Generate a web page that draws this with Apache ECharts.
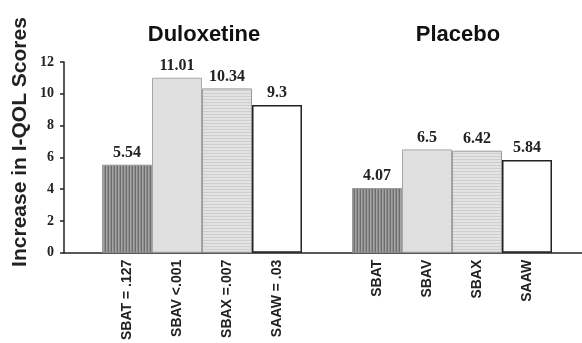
<!DOCTYPE html>
<html><head><meta charset="utf-8">
<script src="https://cdn.jsdelivr.net/npm/echarts@6/dist/echarts.min.js"></script>
<style>html,body{margin:0;padding:0;background:#fff}#c{width:582px;height:343px}</style>
</head><body><div id="c"></div>
<script>
const groupNames = ['Duloxetine', 'Placebo'];
const yAxisTitle = 'Increase in I-QOL Scores';
const duloxetineLabels = ['SBAT = .127', 'SBAV <.001', 'SBAX =.007', 'SAAW = .03'];
const placeboLabels = ['SBAT', 'SBAV', 'SBAX', 'SAAW'];
const duloxetineValues = [5.54, 11.01, 10.34, 9.3];
const placeboValues = [4.07, 6.5, 6.42, 5.84];
const yTickValues = [0, 2, 4, 6, 8, 10, 12];

function makePattern(w, h, draw) {
  const c = document.createElement('canvas');
  c.width = w; c.height = h;
  const g = c.getContext('2d');
  draw(g);
  return { image: c, repeat: 'repeat' };
}
const styles = [
  { color: makePattern(3, 3, g => { g.fillStyle = '#8e8e8e'; g.fillRect(0,0,3,3); g.fillStyle = '#6c6c6c'; g.fillRect(0,0,1,3); g.fillStyle = '#a4a4a4'; g.fillRect(1,0,1,3); }), borderColor: '#9a9a9a', borderWidth: 1 },
  { color: '#e0e0e0', borderColor: '#a6a6a6', borderWidth: 1 },
  { color: makePattern(3, 3, g => { g.fillStyle = '#e3e3e3'; g.fillRect(0,0,3,3); g.fillStyle = '#cecece'; g.fillRect(0,0,3,1); }), borderColor: '#9a9a9a', borderWidth: 1 },
  { color: '#ffffff', borderColor: '#222222', borderWidth: 1.5 }
];

// slot positions: group 0 at 0..3, group 1 at 5..8
const slotLabels = {};
const barData = [];
[duloxetineValues, placeboValues].forEach((vals, gi) => {
  const labs = gi === 0 ? duloxetineLabels : placeboLabels;
  vals.forEach((v, i) => {
    const x = gi * 5 + i;
    slotLabels[x] = labs[i];
    barData.push({ value: [x, v], itemStyle: styles[i] });
  });
});

const chart = echarts.init(document.getElementById('c'));
chart.setOption({
  animation: false,
  grid: { left: 64, right: 0, top: 62, bottom: 87, containLabel: false },
  xAxis: {
    type: 'value', min: -1.26, max: 9.1,
    splitLine: { show: false },
    axisTick: { show: false },
    axisLine: { show: true, onZero: false, lineStyle: { color: '#222', width: 1.5 } },
    axisLabel: {
      customValues: Object.keys(slotLabels).map(Number),
      formatter: v => slotLabels[Math.round(v)] || '',
      rotate: 90, margin: 7,
      fontFamily: 'Liberation Sans', fontWeight: 'bold', fontSize: 14, color: '#222'
    }
  },
  yAxis: {
    type: 'value', min: yTickValues[0], max: yTickValues[yTickValues.length - 1], interval: 2,
    splitLine: { show: false },
    axisLine: { show: true, onZero: false, lineStyle: { color: '#222', width: 1.5 } },
    axisTick: { show: true, length: 4, lineStyle: { color: '#222', width: 1.5 } },
    axisLabel: { margin: 10, fontFamily: 'Liberation Serif', fontWeight: 'bold', fontSize: 14, color: '#222' }
  },
  series: [{
    type: 'bar', barWidth: 50, data: barData,
    label: {
      show: true, position: 'top', distance: 4,
      formatter: p => String(p.value[1]),
      fontFamily: 'Liberation Serif', fontWeight: 'bold', fontSize: 16, color: '#222'
    }
  }]
});
const c0 = chart.convertToPixel({ xAxisIndex: 0 }, 1.5);
const c1 = chart.convertToPixel({ xAxisIndex: 0 }, 6.5);
const titleFont = { fontFamily: 'Liberation Sans', fontWeight: 'bold', fontSize: 22, fill: '#111', textAlign: 'center', textVerticalAlign: 'top' };
chart.setOption({
  graphic: [
    { type: 'text', x: c0 + 2, y: 24, style: Object.assign({ text: groupNames[0] }, titleFont) },
    { type: 'text', x: c1 + 6, y: 24, style: Object.assign({ text: groupNames[1] }, titleFont) },
    { type: 'text', x: 20, y: 142, rotation: Math.PI / 2,
      style: { text: yAxisTitle, fontFamily: 'Liberation Sans', fontWeight: 'bold', fontSize: 21, fill: '#222', textAlign: 'center', textVerticalAlign: 'middle' } }
  ]
});
</script></body></html>
